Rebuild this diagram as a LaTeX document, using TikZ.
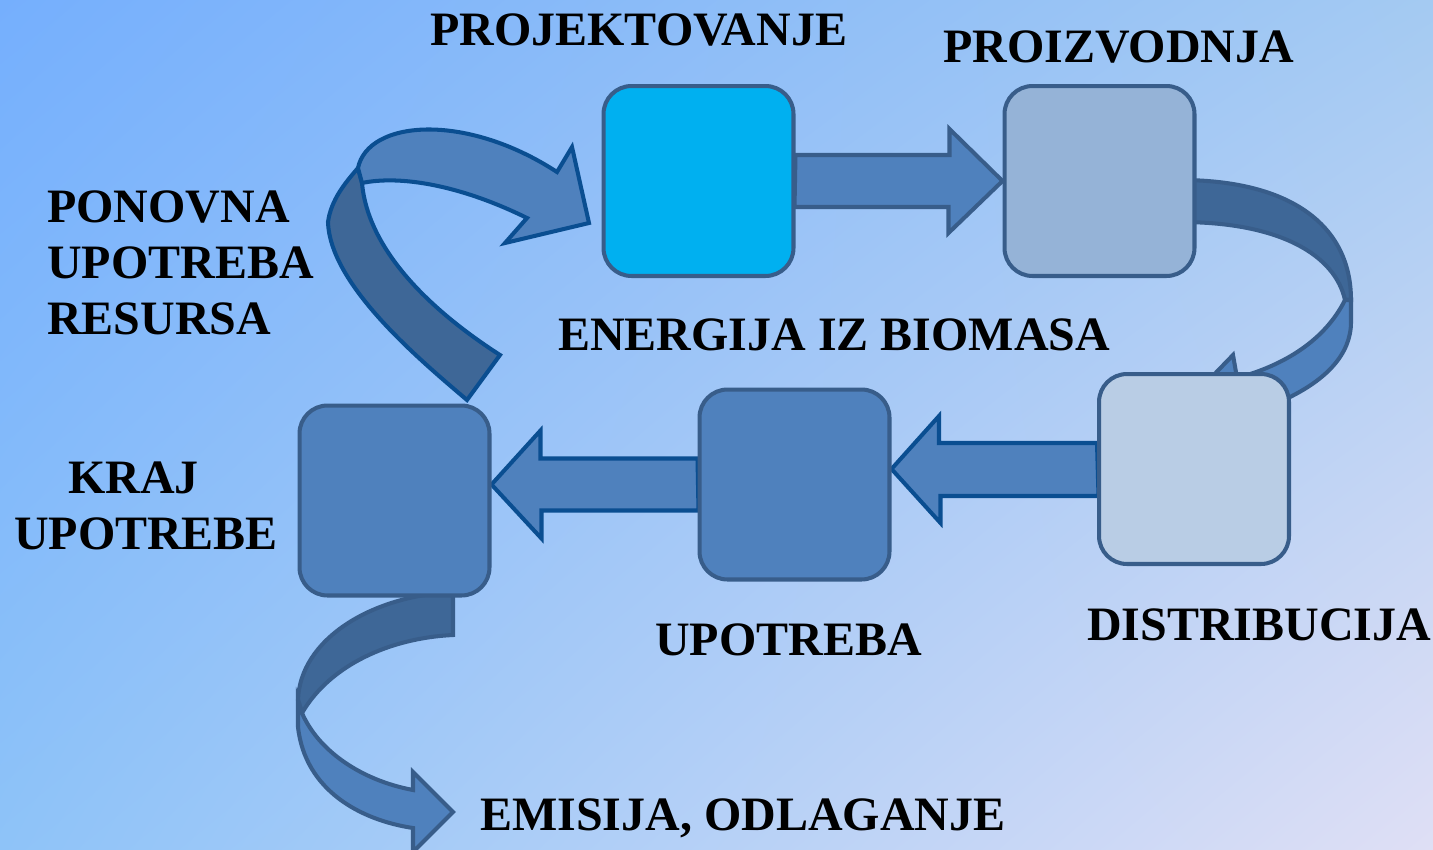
\documentclass[tikz,border=0pt]{standalone}
\usepackage{fontspec}
\setmainfont{Liberation Serif}
\usetikzlibrary{calc,shadings}

\definecolor{skyTL}{RGB}{117,175,253}
\definecolor{skyTR}{RGB}{164,202,242}
\definecolor{skyBL}{RGB}{142,195,248}
\definecolor{skyBR}{RGB}{223,223,245}
\definecolor{boxline}{RGB}{56,93,138}
\definecolor{deepline}{RGB}{10,78,145}
\definecolor{cyanfill}{RGB}{0,176,240}
\definecolor{greyfill}{RGB}{149,179,215}
\definecolor{palefill}{RGB}{185,205,229}
\definecolor{midfill}{RGB}{79,129,189}
\definecolor{darkfill}{RGB}{62,103,151}

\pgfdeclarelayer{back}
\pgfdeclarelayer{mid}
\pgfsetlayers{back,mid,main}

\tikzset{
  stage/.style={draw=boxline, line width=2.3pt, rounded corners=0.56cm, minimum size=3.8cm, inner sep=0pt},
  band/.style={line width=2.3pt, line join=miter, fill=midfill},
  stagetext/.style={font=\fontsize{27.3}{32}\selectfont\bfseries, inner sep=0pt}
}

\begin{document}
\begin{tikzpicture}[x=0.02cm, y=-0.02cm]
  \useasboundingbox (0,0) rectangle (1433,849);
  \begin{pgfonlayer}{back}
    \shade[upper left=skyTL, upper right=skyTR, lower left=skyBL, lower right=skyBR] (0,0) rectangle (1433,849);
  \end{pgfonlayer}

  % the five stages
  \node[stage, fill=cyanfill] (proj) at (698.5,181) {};
  \node[stage, fill=greyfill] (proiz) at (1099.5,181) {};
  \node[stage, fill=palefill] (dist) at (1194,469) {};
  \node[stage, fill=midfill] (upo) at (794.5,484.5) {};
  \node[stage, fill=midfill] (kraj) at (394.5,500.5) {};

  % texts
  \node[stagetext, anchor=base west] (tproj) at (430,45) {PROJEKTOVANJE};
  \node[stagetext, anchor=base west] (tproiz) at (943,62) {PROIZVODNJA};
  \node[stagetext, anchor=west, align=left] (treuse) at (47,263) {PONOVNA\\UPOTREBA\\RESURSA};
  \node[stagetext, anchor=base west] (ttitle) at (558,350) {ENERGIJA IZ BIOMASA};
  \node[stagetext, align=center] (tkraj) at (146,506) {KRAJ\hspace*{0.5cm}\\UPOTREBE};
  \node[stagetext, anchor=base west] (tupo) at (655,655) {UPOTREBA};
  \node[stagetext, anchor=base west] (tdist) at (1087,640) {DISTRIBUCIJA};
  \node[stagetext, anchor=base west] (temis) at (480,830) {EMISIJA, ODLAGANJE};

  \begin{pgfonlayer}{mid}
    % straight block arrows
    \draw[band, draw=boxline] (proj.east) ++(0,-26) -- ++(154,0) -- ++(0,-26) -- (proiz.west)
      -- ++(-54,52) -- ++(0,-26) -- ++(-154,0) -- cycle;
    \draw[band, draw=deepline] (dist.west) ++(0,-26) -- ++(-158,0) -- ++(0,-27) -- (upo.east |- dist.west)
      -- ++(49,54) -- ++(0,-27) -- ++(158,0) -- cycle;
    \draw[band, draw=deepline] (upo.west) ++(0,-26) -- ++(-157,0) -- ++(0,-28) -- (kraj.east |- upo.west)
      -- ++(50,54) -- ++(0,-28) -- ++(157,0) -- cycle;

    % reuse loop
    \draw[band, draw=deepline, fill=darkfill] (467,400) .. controls (420,360) and (330,285) .. (328,222)
      .. controls (331,200) and (345,183) .. (358,168) -- (362,183)
      .. controls (368,250) and (430,310) .. (500,355) -- cycle;
    \draw[band, draw=deepline] (358,168) .. controls (368,120) and (465,112) .. (557,172) -- (572,147)
      -- (589,223) -- (505,243) -- (527,218) .. controls (460,185) and (400,175) .. (362,183) -- cycle;

    % production to distribution
    \draw[band, draw=boxline, fill=darkfill] (1180,180) .. controls (1290,180) and (1351,225) .. (1351,300)
      -- (1345,300) .. controls (1335,255) and (1280,222) .. (1180,222) -- cycle;
    \draw[band, draw=boxline] (1345,300) .. controls (1325,340) and (1285,365) .. (1237,378) -- (1233,355)
      -- (1175,415) -- (1250,460) -- (1270,410) -- (1288,398)
      .. controls (1325,380) and (1351,355) .. (1351,322) -- (1351,300) -- cycle;

    % end of use to emission
    \draw[band, draw=boxline, fill=darkfill] (453,592) .. controls (370,596) and (300,640) .. (298,700)
      -- (302,713) .. controls (330,665) and (390,638) .. (453,635) -- cycle;
    \draw[band, draw=boxline] (298,700) -- (298,727) .. controls (305,790) and (360,820) .. (413,828)
      -- (413,852) -- (453,812) -- (413,772) -- (413,790)
      .. controls (360,780) and (318,750) .. (302,713) -- cycle;
  \end{pgfonlayer}
\end{tikzpicture}
\end{document}
